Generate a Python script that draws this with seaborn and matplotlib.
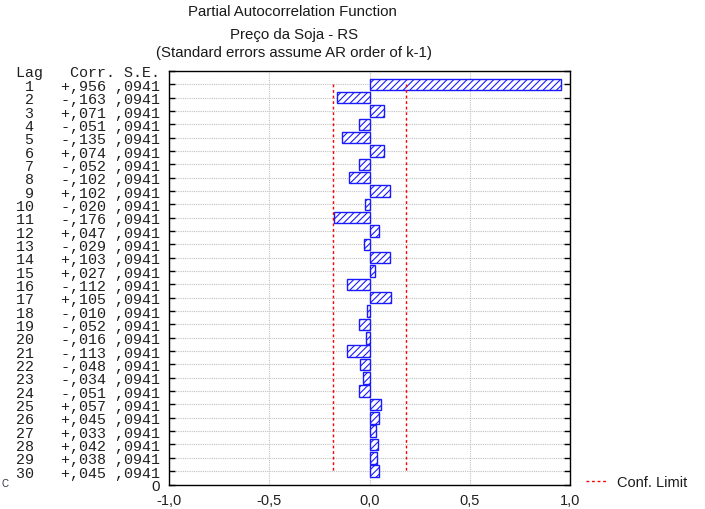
import matplotlib
matplotlib.use("Agg")
import matplotlib.pyplot as plt
import numpy as np
import pandas as pd
import seaborn as sns

# ---------------- data ----------------
lags = list(range(1, 31))
pacf = [0.956, -0.163, 0.071, -0.051, -0.135, 0.074, -0.052, -0.102, 0.102, -0.020,
        -0.176, 0.047, -0.029, 0.103, 0.027, -0.112, 0.105, -0.010, -0.052, -0.016,
        -0.113, -0.048, -0.034, -0.051, 0.057, 0.045, 0.033, 0.042, 0.038, 0.045]
std_err = [0.0941, 0.0941, 0.0941, 0.0941, 0.0941, 0.0941, 0.0941, 0.0941, 0.0941, 0.0941,
           0.0941, 0.0941, 0.0941, 0.0941, 0.0941, 0.0941, 0.0941, 0.0941, 0.0941, 0.0941,
           0.0941, 0.0941, 0.0941, 0.0941, 0.0941, 0.0941, 0.0941, 0.0941, 0.0941, 0.0941]
x_ticks = [-1.0, -0.5, 0.0, 0.5, 1.0]
title_lines = ["Partial Autocorrelation Function",
               "Preço da Soja - RS",
               "(Standard errors assume AR order of k-1)"]
table_header = "Lag   Corr. S.E."
bottom_label = "0"
legend_label = "Conf. Limit"

# ---------------- style ----------------
sns.set_theme(style="white")
plt.rcParams['font.family'] = ['Liberation Sans', 'DejaVu Sans']
plt.rcParams['hatch.linewidth'] = 0.8

W, H = 705, 510
fig = plt.figure(figsize=(W / 100, H / 100), dpi=100)
left, right, top, bottom = 169, 570, 72, 485.5
ax = fig.add_axes([left / W, 1 - bottom / H, (right - left) / W, (bottom - top) / H])

df = pd.DataFrame({"lag": lags, "pacf": pacf, "se": std_err})
df["upper"] = 1.96 * df["se"]
df["lower"] = -1.96 * df["se"]

sns.barplot(data=df, x="pacf", y="lag", orient="y", native_scale=True, width=0.86,
            color="white", saturation=1, edgecolor="#1a1aff", linewidth=1.0,
            hatch="/////", errorbar=None, ax=ax, zorder=3)

sns.lineplot(data=df, x="upper", y="lag", orient="y", sort=False, estimator=None,
             color="#ff0000", linestyle=(0, (2, 2)), linewidth=1.0, ax=ax,
             label=legend_label, zorder=4)
sns.lineplot(data=df, x="lower", y="lag", orient="y", sort=False, estimator=None,
             color="#ff0000", linestyle=(0, (2, 2)), linewidth=1.0, ax=ax, zorder=4)

# y tick labels = the table
def fmt_corr(c):
    return ("+" if c >= 0 else "-") + "," + f"{abs(c):.3f}".split(".")[1]

def fmt_se(s):
    return "," + f"{s:.4f}".split(".")[1]

rows = [f"{l:>2}   {fmt_corr(c)} {fmt_se(s)}" for l, c, s in zip(lags, pacf, std_err)]
ylabels = [table_header] + rows + [bottom_label]
ax.set_yticks(list(range(0, len(lags) + 2)))
ax.set_yticklabels(ylabels, fontfamily="Liberation Mono", fontsize=10.8, color="#202020")
ax.get_yticklabels()[-1].set_fontfamily("Liberation Sans")
ax.set_ylim(len(lags) + 1, 0)

ax.set_xlim(-1, 1)
ax.set_xticks(x_ticks)
ax.set_xticklabels([f"{t:.1f}".replace(".", ",") for t in x_ticks], fontsize=10.5, color="#202020")

ax.tick_params(axis="y", direction="in", left=True, right=True, length=4, width=1,
               color="black", pad=6.5)
ax.tick_params(axis="x", length=0, pad=6)

ax.grid(True, color="#c0c0c0", linestyle=(0, (1, 1)), linewidth=0.8)
ax.set_axisbelow(True)
for sp in ax.spines.values():
    sp.set_visible(True)
    sp.set_color("black")
    sp.set_linewidth(1.0)
ax.set_xlabel("")
ax.set_ylabel("")

# titles
fig.text(292.5 / W, 1 - 12.3 / H, title_lines[0], ha="center", va="center", fontsize=10.8, color="#1a1a1a")
fig.text(294 / W, 1 - 35 / H, title_lines[1], ha="center", va="center", fontsize=10.8, color="#1a1a1a")
fig.text(294 / W, 1 - 52.7 / H, title_lines[2], ha="center", va="center", fontsize=10.8, color="#1a1a1a")

# legend
handles, labels = ax.get_legend_handles_labels()
ax.legend(handles[:1], labels[:1], loc="center left", bbox_to_anchor=(586 / W, 1 - 483 / H),
          bbox_transform=fig.transFigure, frameon=False, borderpad=0, borderaxespad=0,
          handlelength=1.4, handletextpad=0.75, fontsize=10.5, labelcolor="#1a1a1a")

# small stray letter at the far left edge (kept fully inside the figure)
fig.text(1 / W, 1 - 484 / H, "C", ha="left", va="center", fontsize=7, color="#303040")

fig.savefig("out.png", dpi=100)
